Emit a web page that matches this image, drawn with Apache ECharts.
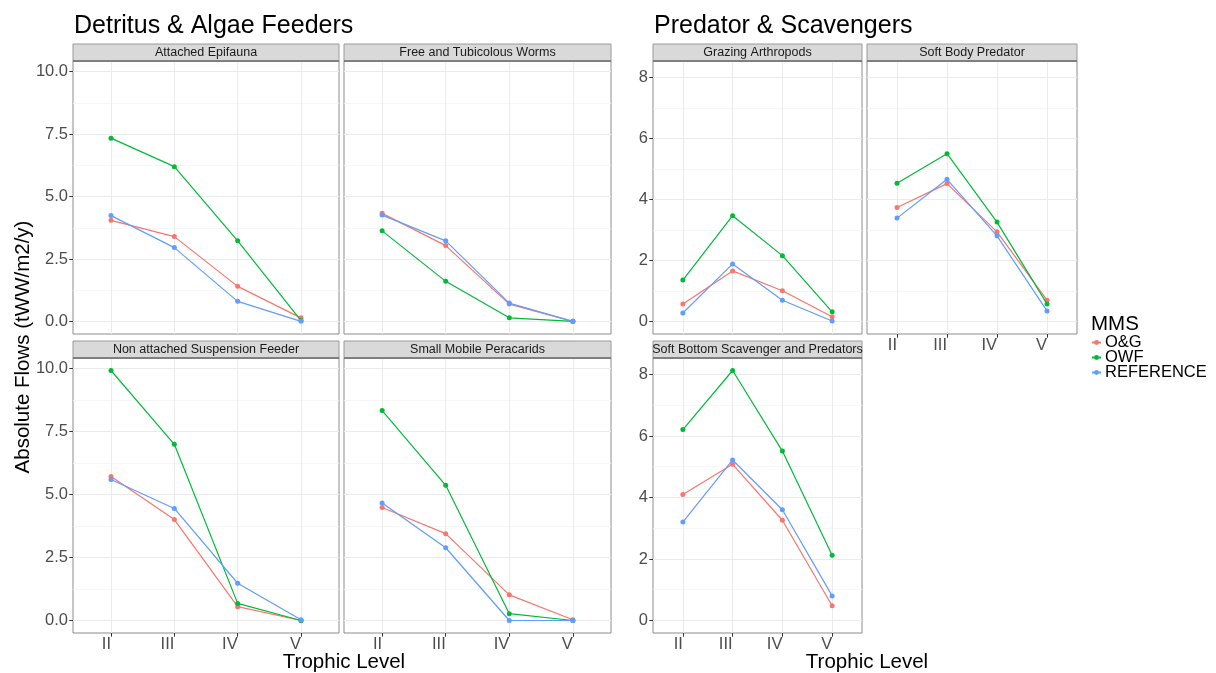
<!DOCTYPE html>
<html>
<head>
<meta charset="utf-8">
<script src="https://cdn.jsdelivr.net/npm/echarts@6/dist/echarts.min.js"></script>
<style>html,body{margin:0;padding:0;background:#fff}#main{width:1216px;height:673px}</style>
</head>
<body>
<div id="main"></div>
<script>
// ---- categories / tick labels ----
const levels = ['II', 'III', 'IV', 'V'];
const mmsNames = ['O&G', 'OWF', 'REFERENCE'];
const leftYTicks = [0, 2.5, 5, 7.5, 10];
const leftYMinor = [1.25, 3.75, 6.25, 8.75];
const rightYTicks = [0, 2, 4, 6, 8];
const rightYMinor = [1, 3, 5, 7];

// ---- Detritus & Algae Feeders ----
const aeOG  = [4.05, 3.40, 1.41, 0.15];
const aeOWF = [7.34, 6.20, 3.23, 0.04];
const aeREF = [4.24, 2.96, 0.81, 0.01];

const ftwOG  = [4.33, 3.04, 0.70, 0.01];
const ftwOWF = [3.63, 1.61, 0.15, 0.01];
const ftwREF = [4.26, 3.23, 0.74, 0.01];

const nasfOG  = [5.72, 4.01, 0.55, 0.00];
const nasfOWF = [9.93, 7.00, 0.68, 0.00];
const nasfREF = [5.60, 4.45, 1.48, 0.03];

const smpOG  = [4.49, 3.45, 1.02, 0.03];
const smpOWF = [8.34, 5.37, 0.27, 0.00];
const smpREF = [4.67, 2.89, 0.00, 0.00];

// ---- Predator & Scavengers ----
const gaOG  = [0.58, 1.66, 1.01, 0.16];
const gaOWF = [1.36, 3.47, 2.16, 0.32];
const gaREF = [0.28, 1.89, 0.70, 0.02];

const sbpOG  = [3.74, 4.52, 2.94, 0.70];
const sbpOWF = [4.53, 5.50, 3.26, 0.58];
const sbpREF = [3.39, 4.66, 2.81, 0.35];

const sbspOG  = [4.10, 5.08, 3.26, 0.48];
const sbspOWF = [6.21, 8.13, 5.51, 2.12];
const sbspREF = [3.20, 5.22, 3.60, 0.80];

// ---- styling / layout ----
const colors = ['#F8766D', '#00BA38', '#619CFF'];
const FONT = '"Liberation Sans", Arial, sans-serif';
const leftMin = -0.4965, leftMax = 10.4265;
const rightMin = -0.4065, rightMax = 8.5365;

const panels = [
  {name: 'Attached Epifauna', vals: [aeOG, aeOWF, aeREF], g: 'L', left: 73, top: 61, w: 266, h: 273, xl: false, yl: true},
  {name: 'Free and Tubicolous Worms', vals: [ftwOG, ftwOWF, ftwREF], g: 'L', left: 344, top: 61, w: 267, h: 273, xl: false, yl: false},
  {name: 'Non attached Suspension Feeder', vals: [nasfOG, nasfOWF, nasfREF], g: 'L', left: 73, top: 358, w: 266, h: 275, xl: true, yl: true},
  {name: 'Small Mobile Peracarids', vals: [smpOG, smpOWF, smpREF], g: 'L', left: 344, top: 358, w: 267, h: 275, xl: true, yl: false},
  {name: 'Grazing Arthropods', vals: [gaOG, gaOWF, gaREF], g: 'R', left: 653, top: 61, w: 209, h: 273, xl: false, yl: true},
  {name: 'Soft Body Predator', vals: [sbpOG, sbpOWF, sbpREF], g: 'R', left: 867, top: 61, w: 210, h: 273, xl: true, yl: false},
  {name: 'Soft Bottom Scavenger and Predators', vals: [sbspOG, sbspOWF, sbspREF], g: 'R', left: 653, top: 358, w: 209, h: 275, xl: true, yl: true}
];

const grid = [], xAxis = [], yAxis = [], series = [], graphic = [];
const catVals = levels.map((_, i) => i + 1);

panels.forEach((p, i) => {
  grid.push({left: p.left, top: p.top, width: p.w, height: p.h, show: true,
    backgroundColor: '#fff', borderColor: '#8c8c8c', borderWidth: 1, containLabel: false});
  xAxis.push({
    type: 'value', gridIndex: i, min: 0.4, max: 4.6, position: 'bottom',
    axisLine: {show: false, onZero: false},
    axisTick: {show: p.xl, customValues: catVals, length: 3.7, lineStyle: {color: '#333'}},
    axisLabel: {show: p.xl, customValues: catVals, formatter: v => levels[Math.round(v) - 1],
      align: 'right', margin: 3, fontSize: 16.5, color: '#4d4d4d', fontFamily: FONT},
    splitLine: {show: true, lineStyle: {color: '#ebebeb', width: 1}}
  });
  const isL = p.g === 'L';
  const mn = isL ? leftMin : rightMin, mx = isL ? leftMax : rightMax;
  const ticks = isL ? leftYTicks : rightYTicks;
  const minor = isL ? leftYMinor : rightYMinor;
  const majorIdx = yAxis.length;
  yAxis.push({
    type: 'value', gridIndex: i, min: mn, max: mx, position: 'left',
    axisLine: {show: false, onZero: false},
    axisTick: {show: p.yl, customValues: ticks, length: 3.7, lineStyle: {color: '#333'}},
    axisLabel: {show: p.yl, customValues: ticks, formatter: v => isL ? v.toFixed(1) : String(v),
      margin: 5, fontSize: 16.5, color: '#4d4d4d', fontFamily: FONT},
    splitLine: {show: true, lineStyle: {color: '#ebebeb', width: 1}}
  });
  yAxis.push({
    type: 'value', gridIndex: i, min: mn, max: mx, position: 'left',
    axisLine: {show: false, onZero: false}, axisTick: {show: false, customValues: minor},
    axisLabel: {show: false},
    splitLine: {show: true, lineStyle: {color: '#f4f4f4', width: 0.8}}
  });
  p.vals.forEach((arr, k) => {
    series.push({
      type: 'line', name: mmsNames[k], xAxisIndex: i, yAxisIndex: majorIdx,
      data: arr.map((v, j) => [j + 1, v]),
      symbol: 'circle', symbolSize: 5, showSymbol: true,
      color: colors[k], lineStyle: {width: 1.2, color: colors[k]},
      itemStyle: {color: colors[k]}, z: 3 + k, silent: true
    });
  });
  // strip
  graphic.push({type: 'rect', shape: {x: p.left, y: p.top - 17, width: p.w, height: 17},
    style: {fill: '#d9d9d9', stroke: '#9a9a9a', lineWidth: 1}, z: 10});
  graphic.push({type: 'line', shape: {x1: p.left, y1: p.top, x2: p.left + p.w, y2: p.top},
    style: {stroke: '#6e6e6e', lineWidth: 1.5}, z: 11});
  graphic.push({type: 'text', x: p.left + p.w / 2, y: p.top - 8.5,
    style: {text: p.name, fill: '#1a1a1a', font: '12.5px ' + FONT, align: 'center', verticalAlign: 'middle'}, z: 12});
});

// titles and axis titles
graphic.push({type: 'text', x: 74, y: 26, style: {text: 'Detritus & Algae Feeders', fill: '#000', font: '25px ' + FONT, align: 'left', verticalAlign: 'middle'}});
graphic.push({type: 'text', x: 654, y: 26, style: {text: 'Predator & Scavengers', fill: '#000', font: '25px ' + FONT, align: 'left', verticalAlign: 'middle'}});
graphic.push({type: 'text', x: 344, y: 662, style: {text: 'Trophic Level', fill: '#000', font: '20.5px ' + FONT, align: 'center', verticalAlign: 'middle'}});
graphic.push({type: 'text', x: 867, y: 662, style: {text: 'Trophic Level', fill: '#000', font: '20.5px ' + FONT, align: 'center', verticalAlign: 'middle'}});
graphic.push({type: 'text', x: 23, y: 347, rotation: Math.PI / 2, style: {text: 'Absolute Flows (tWW/m2/y)', fill: '#000', font: '20.5px ' + FONT, align: 'center', verticalAlign: 'middle'}});
graphic.push({type: 'text', x: 1091, y: 324, style: {text: 'MMS', fill: '#000', font: '20.5px ' + FONT, align: 'left', verticalAlign: 'middle'}});

const option = {
  animation: false,
  backgroundColor: '#fff',
  grid, xAxis, yAxis, series, graphic,
  legend: {
    data: mmsNames, orient: 'vertical', left: 1091, top: 334, padding: 0,
    itemWidth: 9, itemHeight: 6, itemGap: -2, selectedMode: false,
    textStyle: {fontSize: 16.5, lineHeight: 14, color: '#000', fontFamily: FONT, padding: [0, 0, 0, -1]}
  }
};
const chart = echarts.init(document.getElementById('main'));
chart.setOption(option);
</script>
</body>
</html>
